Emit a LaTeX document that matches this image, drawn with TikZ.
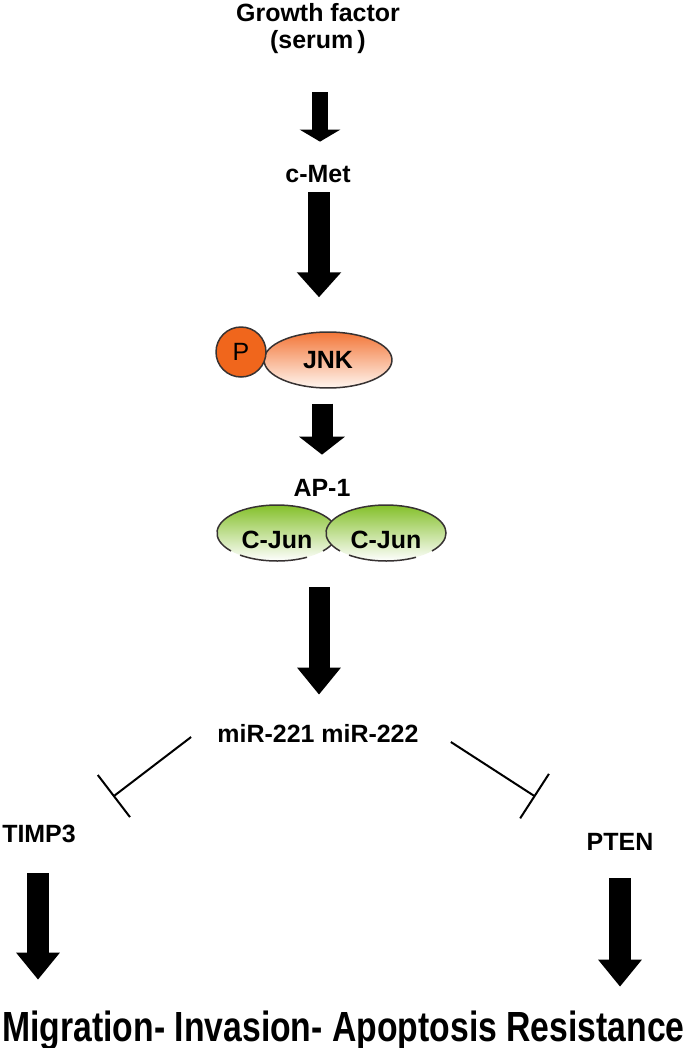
\documentclass[tikz,border=0pt]{standalone}
\usepackage{fontspec}
\setmainfont{Liberation Sans}
\usetikzlibrary{arrows.meta,shapes.geometric,calc}
\pgfdeclarelayer{bg}
\pgfsetlayers{bg,main}
\definecolor{porange}{RGB}{240,102,28}
\definecolor{jnktop}{RGB}{243,118,56}
\definecolor{jnkbot}{RGB}{255,246,240}
\definecolor{juntop}{RGB}{132,192,42}
\definecolor{outline}{RGB}{55,50,50}
\tikzset{
  lbl/.style={font=\fontsize{14.2}{17}\selectfont\bfseries, inner sep=0pt,
    text height=0.36cm, text depth=0.1cm},
  blockarrow/.style n args={3}{line width=#1, -{Triangle[width=#2, length=#3]}},
  inhibit/.style={line width=0.04cm, -{Bar[width=1.06cm]}},
  cjun/.style={ellipse, draw=none, inner sep=0pt, minimum width=2.4cm,
    minimum height=1.12cm, top color=juntop, bottom color=white,
    font=\fontsize{14.2}{17}\selectfont\bfseries, text height=0.36cm, text depth=0.1cm},
  junline/.style={draw=outline, line width=0.03cm}
}
\begin{document}
\begin{tikzpicture}[x=0.02cm, y=-0.02cm]
        \useasboundingbox (0,0) rectangle (689,1048);

        \node (gf) [lbl, label={[lbl, label distance=0.08cm]above:Growth factor}] at (318, 42.5) {(serum\,)};
        \node (cmet) [lbl] at (318, 175.5) {c-Met};
        \node (jnk) [ellipse, draw=outline, line width=0.03cm, inner sep=0pt,
                minimum width=2.56cm, minimum height=1.12cm, top color=jnktop,
                bottom color=jnkbot, font=\fontsize{14.2}{17}\selectfont\bfseries]
                at (328, 360) {\raisebox{-0.04cm}{JNK}};
        \node (p) [circle, draw=outline, line width=0.03cm, fill=porange, inner sep=0pt,
                minimum size=1.0cm, font=\fontsize{14.2}{17}\selectfont] at (241, 352) {P};
        \node (ap1) [lbl] at (322, 489.5) {AP-1};

        \node (cjunl) [cjun] at (277, 533) {\raisebox{-0.18cm}{C-Jun}};
        \draw [junline] (cjunl.center) ++(140:60 and 28) arc [start angle=140, end angle=400, x radius=60, y radius=28];
        \draw [junline] (cjunl.center) ++(60:60 and 28) arc [start angle=60, end angle=128, x radius=60, y radius=28];
        \node (cjunr) [cjun] at (386, 533) {\raisebox{-0.18cm}{C-Jun}};
        \draw [junline] (cjunr.center) ++(140:60 and 28) arc [start angle=140, end angle=400, x radius=60, y radius=28];
        \draw [junline] (cjunr.center) ++(60:60 and 28) arc [start angle=60, end angle=128, x radius=60, y radius=28];

        \node (mir) [lbl] at (318, 735.5) {miR-221 miR-222};
        \node (timp) [lbl] at (39, 835.5) {TIMP3};
        \node (pten) [lbl] at (620, 843.5) {PTEN};
        \node (res) [font=\fontsize{24}{28}\selectfont\bfseries, inner sep=0pt,
                text height=0.56cm, text depth=0.16cm] at (343.5, 1031)
                {\scalebox{0.8}[1]{Migration- Invasion- Apoptosis Resistance}};

        \begin{pgfonlayer}{bg}
                \draw [blockarrow={0.32cm}{0.8cm}{0.24cm}] ($(gf.south)+(2,38)$) -- ($(cmet.north)+(2,-22)$);
                \draw [blockarrow={0.44cm}{0.86cm}{0.5cm}] ($(cmet.south)+(1,5)$) -- ($(cmet.south |- jnk.north)+(1,-34)$);
                \draw [blockarrow={0.42cm}{0.9cm}{0.36cm}] ($(ap1.north |- jnk.south)+(0,15)$) -- ($(ap1.north)+(0,-23)$);
                \draw [blockarrow={0.42cm}{0.84cm}{0.54cm}] ($(mir.north |- cjunl.south)+(1,26)$) -- ($(mir.north)+(1,-29)$);
                \draw [blockarrow={0.44cm}{0.84cm}{0.54cm}] ($(timp.south)+(-1,26)$) -- ($(timp.south |- res.north)+(-1,-33)$);
                \draw [blockarrow={0.44cm}{0.84cm}{0.54cm}] ($(pten.south)+(0,23)$) -- ($(pten.south |- res.north)+(0,-26)$);
                \draw [inhibit] ($(mir.west)+(-26,1.5)$) -- ($(timp.north east)+(37,-27)$);
                \draw [inhibit] ($(mir.east)+(32,6.5)$) -- ($(pten.north west)+(-51,-35)$);
        \end{pgfonlayer}
\end{tikzpicture}
\end{document}
